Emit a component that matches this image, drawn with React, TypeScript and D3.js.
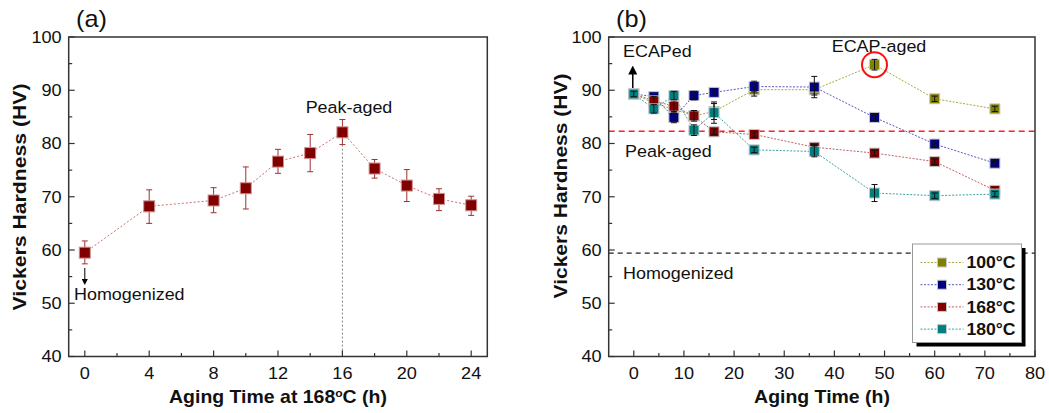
import React from "react";
import * as d3 from "d3";

// panel (a): aging at 168 C after homogenization
const aTime = [0, 4, 8, 10, 12, 14, 16, 18, 20, 22, 24];
const aHV = [59.5, 68.2, 69.3, 71.6, 76.6, 78.2, 82.1, 75.3, 72.1, 69.6, 68.4];
const aLow = [57.4, 65.0, 67.0, 67.7, 74.4, 74.7, 79.8, 73.5, 69.1, 67.4, 66.5];
const aHigh = [61.7, 71.3, 71.7, 75.6, 78.9, 81.7, 84.5, 77.0, 75.1, 71.5, 70.1];
const aTicks = [0, 4, 8, 12, 16, 20, 24];

// panel (b): ECAP + aging
const bTime = [0, 4, 8, 12, 16, 24, 36, 48, 60, 72];
const hv100 = [89.3, 87.6, 86.4, 85.2, 86.0, 90.1, 90.1, 94.8, 88.4, 86.5];
const hv130 = [89.3, 88.8, 84.9, 89.0, 89.6, 90.7, 90.6, 84.9, 79.9, 76.3];
const hv168 = [89.3, 88.0, 87.0, 85.2, 82.2, 81.7, 79.3, 78.2, 76.6, 71.2];
const hv180 = [89.3, 86.5, 89.0, 82.5, 85.8, 78.8, 78.5, 70.7, 70.2, 70.5];
const err100 = [0.5, 0.8, 1.0, 0.8, 1.5, 1.2, 1.0, 1.0, 0.5, 0.5];
const err130 = [0.5, 0.6, 1.0, 0.8, 0.6, 1.0, 2.0, 0.5, 0.5, 0.5];
const err168 = [0.5, 0.8, 1.0, 1.0, 0.5, 0.5, 0.5, 0.5, 0.5, 0.5];
const err180 = [0.5, 0.8, 0.8, 1.0, 2.0, 0.5, 1.0, 1.6, 0.5, 0.5];
const seriesNames = ["100°C", "130°C", "168°C", "180°C"];
const peakAged = 82.3;
const homogenized = 59.4;

const font = "Liberation Sans, Arial, sans-serif";
const frameColor = "#333";

const series = [
  { name: seriesNames[0], vals: hv100, err: err100, fill: "#808000", line: "#a8a840" },
  { name: seriesNames[1], vals: hv130, err: err130, fill: "#000080", line: "#5858c0" },
  { name: seriesNames[2], vals: hv168, err: err168, fill: "#800000", line: "#c06060" },
  { name: seriesNames[3], vals: hv180, err: err180, fill: "#008080", line: "#40a0a0" },
];

// the figure is slightly stretched sideways, so text gets a 1.1 x-scale
const T = ({ x, y, size, anchor = "start", weight = "normal", dy, children }: any) => (
  <text transform={`translate(${x},${y}) scale(1.1,1)`} dy={dy} fontSize={size} textAnchor={anchor}
    fontWeight={weight} fontFamily={font} fill="#111">{children}</text>
);

const YAxis = ({ y, x0 }: any) => {
  const major = d3.range(40, 101, 10);
  const minor = d3.range(45, 100, 10);
  return (
    <g>
      {major.map((v) => (
        <g key={v}>
          <line x1={x0} x2={x0 + 6} y1={y(v)} y2={y(v)} stroke={frameColor} strokeWidth={1.2} />
          <T x={x0 - 7} y={y(v)} dy="0.36em" anchor="end" size={16.5}>{v}</T>
        </g>
      ))}
      {minor.map((v) => (
        <line key={v} x1={x0} x2={x0 + 3.5} y1={y(v)} y2={y(v)} stroke={frameColor} strokeWidth={1.2} />
      ))}
    </g>
  );
};

const XAxis = ({ x, y0, major, minor }: any) => (
  <g>
    {major.map((v: number) => (
      <g key={v}>
        <line x1={x(v)} x2={x(v)} y1={y0} y2={y0 - 6} stroke={frameColor} strokeWidth={1.2} />
        <T x={x(v)} y={y0 + 22} anchor="middle" size={16.5}>{v}</T>
      </g>
    ))}
    {minor.map((v: number) => (
      <line key={v} x1={x(v)} x2={x(v)} y1={y0} y2={y0 - 3.5} stroke={frameColor} strokeWidth={1.2} />
    ))}
  </g>
);

export default function App() {
  const top = 37, bottom = 356.5;
  const y = d3.scaleLinear().domain([40, 100]).range([bottom, top]);

  // (a)
  const xa = d3.scaleLinear().domain([-1, 25]).range([68.7, 487.3]);
  const lineA = d3.line<number>().x((d, i) => xa(aTime[i])).y((d) => y(d));

  // (b)
  const xb = d3.scaleLinear().domain([-5, 80]).range([608.7, 1035]);
  const lineB = d3.line<number>().x((d, i) => xb(bTime[i])).y((d) => y(d));

  const ms = 11;
  const msb = 10;
  const legX = 912.5, legY = 244, legW = 109, legH = 98.5;
  const lab = 16.3;

  return (
    <svg width={1049} height={413} style={{ position: "absolute", left: 0, top: 0, background: "#fff" }}>
      <defs>
        <marker id="arr" viewBox="0 0 10 10" refX="5" refY="5" markerWidth="6" markerHeight="6" orient="auto-start-reverse">
          <path d="M0,0 L10,5 L0,10 z" fill="#000" />
        </marker>
      </defs>

      {/* ---------- panel (a) ---------- */}
      <T x={76} y={27} size={23}>(a)</T>
      <line x1={xa(16)} x2={xa(16)} y1={y(79.8)} y2={bottom} stroke="#888" strokeWidth={1} strokeDasharray="2,2" />
      <path d={lineA(aHV) || ""} fill="none" stroke="#c87070" strokeWidth={1} strokeDasharray="2,2" />
      {aTime.map((t, i) => (
        <g key={t} stroke="#a03030" strokeWidth={1}>
          <line x1={xa(t)} x2={xa(t)} y1={y(aLow[i])} y2={y(aHigh[i])} />
          <line x1={xa(t) - 3} x2={xa(t) + 3} y1={y(aLow[i])} y2={y(aLow[i])} />
          <line x1={xa(t) - 3} x2={xa(t) + 3} y1={y(aHigh[i])} y2={y(aHigh[i])} />
        </g>
      ))}
      {aTime.map((t, i) => (
        <rect key={t} x={xa(t) - ms / 2} y={y(aHV[i]) - ms / 2} width={ms} height={ms}
          fill="#800000" stroke="#d09090" strokeWidth={1} />
      ))}
      <T x={349} y={113} anchor="middle" size={lab}>Peak-aged</T>
      <line x1={xa(0)} x2={xa(0)} y1={268} y2={282} stroke="#000" strokeWidth={1} markerEnd="url(#arr)" />
      <T x={74} y={300} size={lab}>Homogenized</T>
      <YAxis y={y} x0={68.7} />
      <XAxis x={xa} y0={bottom} major={aTicks} minor={d3.range(2, 24, 4)} />
      <rect x={68.7} y={top} width={487.3 - 68.7} height={bottom - top} fill="none" stroke={frameColor} strokeWidth={1.5} />
      <T x={278} y={403} anchor="middle" size={17.7} weight="bold">
        Aging Time at 168<tspan dy={-6} fontSize={11}>o</tspan><tspan dy={6}>C (h)</tspan>
      </T>
      <text transform={`translate(19,197) rotate(-90)`} dy="0.36em" textAnchor="middle" fontSize={19} fontWeight="bold"
        fontFamily={font} fill="#111" textLength={227} lengthAdjust="spacingAndGlyphs">
        Vickers Hardness (HV)
      </text>

      {/* ---------- panel (b) ---------- */}
      <T x={616} y={27} size={23}>(b)</T>
      <line x1={608.7} x2={1035} y1={y(homogenized)} y2={y(homogenized)} stroke="#222" strokeWidth={1.2} strokeDasharray="5,4" />
      <line x1={608.7} x2={1035} y1={y(peakAged)} y2={y(peakAged)} stroke="#ff2020" strokeWidth={1.6} strokeDasharray="6,4" />
      {series.map((s) => (
        <path key={s.name} d={lineB(s.vals) || ""} fill="none" stroke={s.line} strokeWidth={1} strokeDasharray="2,1.5" />
      ))}
      {series.map((s) => (
        <g key={s.name}>
          {bTime.map((t, i) => (
            <g key={t}>
              <rect x={xb(t) - msb / 2} y={y(s.vals[i]) - msb / 2} width={msb} height={msb}
                fill={s.fill} stroke="#c8c8c8" strokeWidth={1} />
              <g stroke="#111" strokeWidth={1}>
                <line x1={xb(t)} x2={xb(t)} y1={y(s.vals[i] - s.err[i])} y2={y(s.vals[i] + s.err[i])} />
                <line x1={xb(t) - 3} x2={xb(t) + 3} y1={y(s.vals[i] - s.err[i])} y2={y(s.vals[i] - s.err[i])} />
                <line x1={xb(t) - 3} x2={xb(t) + 3} y1={y(s.vals[i] + s.err[i])} y2={y(s.vals[i] + s.err[i])} />
              </g>
            </g>
          ))}
        </g>
      ))}
      <circle cx={xb(48)} cy={y(hv100[7])} r={12.5} fill="none" stroke="#ff1010" strokeWidth={2} />
      <T x={879} y={52} anchor="middle" size={lab}>ECAP-aged</T>
      <T x={623} y={57} size={lab}>ECAPed</T>
      <line x1={xb(0) - 1} x2={xb(0) - 1} y1={88} y2={70} stroke="#000" strokeWidth={1.5} markerEnd="url(#arr)" />
      <T x={625} y={157} size={lab}>Peak-aged</T>
      <T x={623} y={279} size={lab}>Homogenized</T>

      <rect x={legX + 4} y={legY + 4} width={legW} height={legH} fill="#000" />
      <rect x={legX} y={legY} width={legW} height={legH} fill="#fff" stroke="#999" strokeWidth={1} />
      {series.map((s, i) => {
        const ry = legY + 18.5 + i * 22.2;
        return (
          <g key={s.name}>
            <line x1={legX + 8} x2={legX + 51} y1={ry} y2={ry} stroke={s.line} strokeWidth={1} strokeDasharray="2,1.5" />
            <rect x={legX + 29.5 - 4.5} y={ry - 4.5} width={9} height={9} fill={s.fill} stroke="#c8c8c8" strokeWidth={1} />
            <T x={legX + 54} y={ry} dy="0.36em" size={16} weight="bold">{s.name}</T>
          </g>
        );
      })}

      <YAxis y={y} x0={608.7} />
      <XAxis x={xb} y0={bottom} major={d3.range(0, 81, 10)} minor={d3.range(5, 80, 10)} />
      <rect x={608.7} y={top} width={1035 - 608.7} height={bottom - top} fill="none" stroke={frameColor} strokeWidth={1.5} />
      <T x={822} y={403} anchor="middle" size={17.7} weight="bold">Aging Time (h)</T>
      <text transform={`translate(560,186) rotate(-90)`} dy="0.36em" textAnchor="middle" fontSize={19} fontWeight="bold"
        fontFamily={font} fill="#111" textLength={225} lengthAdjust="spacingAndGlyphs">
        Vickers Hardness (HV)
      </text>
    </svg>
  );
}
